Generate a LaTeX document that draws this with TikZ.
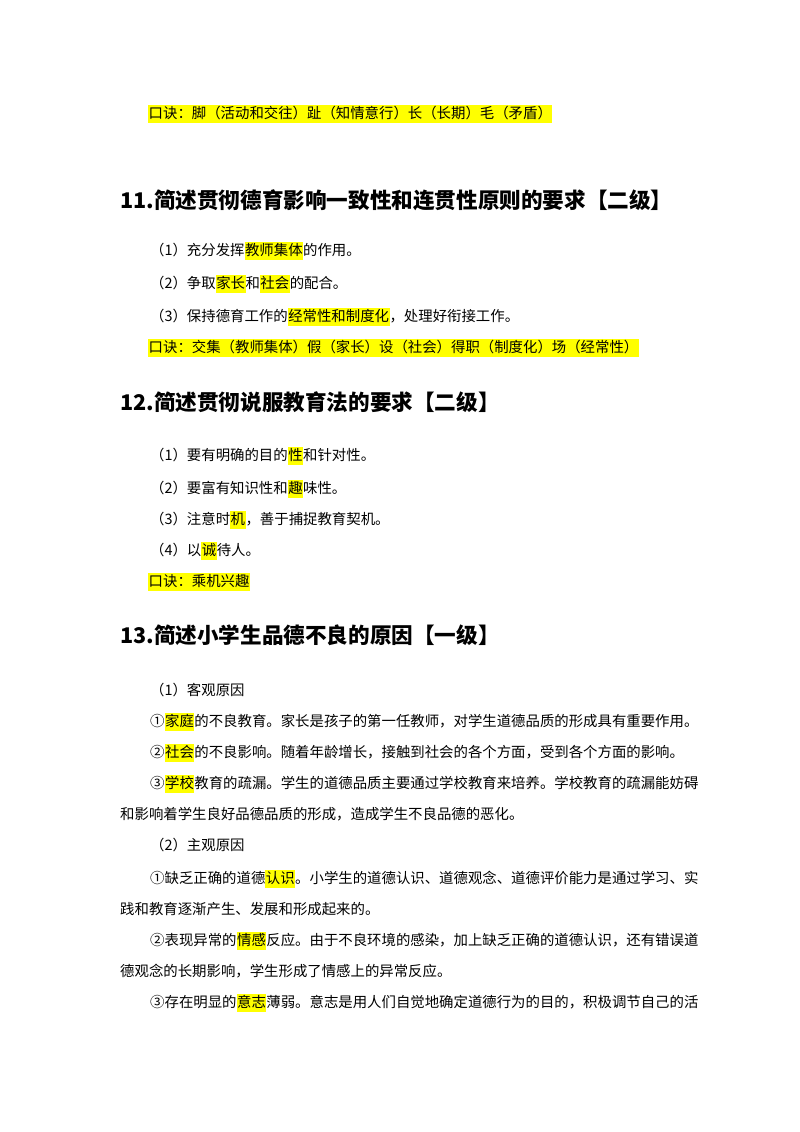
\documentclass[tikz,border=0pt]{standalone}
\usepackage{fontspec}
\setmainfont{Noto Sans CJK SC}
\usepackage{xcolor}
\definecolor{hly}{RGB}{255,255,0}
\newcommand{\hlt}[1]{{\setlength{\fboxsep}{0.5pt}\colorbox{hly}{\strut #1}}}
\begin{document}
\begin{tikzpicture}[x=1pt,y=-1pt,
  body/.style={anchor=base west,inner sep=0pt,font=\fontsize{14.4}{16}\selectfont},
  head/.style={anchor=base west,inner sep=0pt,font=\fontsize{21.6}{24}\selectfont\bfseries}]
\useasboundingbox (0,0) rectangle (800,1132);
\node[body] (k0) at (148,118) {\hlt{口诀：脚（活动和交往）趾（知情意行）长（长期）毛（矛盾）}};
\node[head] (h11) at (120,208) {11.简述贯彻德育影响一致性和连贯性原则的要求【二级】};
\node[body] (a1) at (150,255) {（1）充分发挥\hlt{教师集体}的作用。};
\node[body] (a2) at (150,288) {（2）争取\hlt{家长}和\hlt{社会}的配合。};
\node[body] (a3) at (150,321) {（3）保持德育工作的\hlt{经常性和制度化}，处理好衔接工作。};
\node[body] (k1) at (148,352) {\hlt{口诀：交集（教师集体）假（家长）设（社会）得职（制度化）场（经常性）}};
\node[head] (h12) at (120,410) {12.简述贯彻说服教育法的要求【二级】};
\node[body] (b1) at (150,460) {（1）要有明确的目的\hlt{性}和针对性。};
\node[body] (b2) at (150,493) {（2）要富有知识性和\hlt{趣}味性。};
\node[body] (b3) at (150,524) {（3）注意时\hlt{机}，善于捕捉教育契机。};
\node[body] (b4) at (150,555) {（4）以\hlt{诚}待人。};
\node[body] (k2) at (148,586) {\hlt{口诀：乘机兴趣}};
\node[head] (h13) at (120,643) {13.简述小学生品德不良的原因【一级】};
\node[body] (c0) at (150,695) {（1）客观原因};
\node[body] (c1) at (150,726) {①\hlt{家庭}的不良教育。家长是孩子的第一任教师，对学生道德品质的形成具有重要作用。};
\node[body] (c2) at (150,757) {②\hlt{社会}的不良影响。随着年龄增长，接触到社会的各个方面，受到各个方面的影响。};
\node[body] (c3) at (150,788) {③\hlt{学校}教育的疏漏。学生的道德品质主要通过学校教育来培养。学校教育的疏漏能妨碍};
\node[body] (c3b) at (120,819) {和影响着学生良好品德品质的形成，造成学生不良品德的恶化。};
\node[body] (d0) at (150,850) {（2）主观原因};
\node[body] (d1) at (150,883) {①缺乏正确的道德\hlt{认识}。小学生的道德认识、道德观念、道德评价能力是通过学习、实};
\node[body] (d1b) at (120,914) {践和教育逐渐产生、发展和形成起来的。};
\node[body] (d2) at (150,945) {②表现异常的\hlt{情感}反应。由于不良环境的感染，加上缺乏正确的道德认识，还有错误道};
\node[body] (d2b) at (120,976) {德观念的长期影响，学生形成了情感上的异常反应。};
\node[body] (d3) at (150,1007) {③存在明显的\hlt{意志}薄弱。意志是用人们自觉地确定道德行为的目的，积极调节自己的活};
\end{tikzpicture}
\end{document}
